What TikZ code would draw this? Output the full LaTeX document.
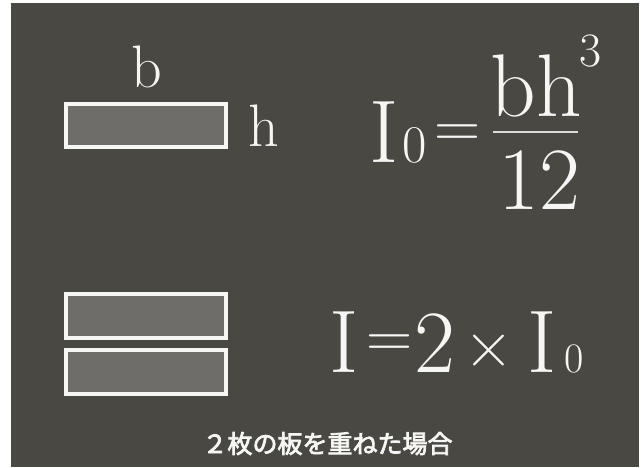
\documentclass[tikz,border=0pt]{standalone}
\usepackage{fontspec}
\usepackage{tikz}
\usetikzlibrary{positioning}
\newfontfamily\jpfont[FakeBold=3]{Noto Sans CJK JP}
\definecolor{cBoard}{HTML}{4A4843}
\definecolor{cPlate}{HTML}{6F6D69}
\definecolor{cChalk}{HTML}{F6F6F4}
\newcommand{\sizeof}[1]{\fontsize{#1}{#1}\selectfont}
\tikzset{
  plate/.style={rectangle, draw=cChalk, fill=cPlate, line width=4pt, minimum width=160pt, minimum height=44pt, inner sep=0pt},
  txt/.style={text=cChalk, inner sep=0pt, anchor=base},
  fracbar/.style={draw=cChalk!85!cBoard, line width=2pt},
}

\begin{document}
\begin{tikzpicture}[x=1pt, y=-1pt]
  \useasboundingbox (0,0) rectangle (641,468);
  \fill[cBoard] (11,3) rectangle (639,467);
  % single plate
  \node[plate, minimum height=43pt] (one) at (146,125.5) {};
  \node[txt, font=\sizeof{60}] (b) at (147,88) {b};
  \node[txt, font=\sizeof{60}] (h) at (264,147) {h};
  % I0 = bh^3/12
  \node[txt, font=\sizeof{89}] (Izero) at (384,163) {I};
  \node[txt, font=\sizeof{53}] (zero) at (415,163) {0};
  \node[txt, font=\sizeof{64}] (eqa) at (458,148) {=};
  \node[txt, font=\sizeof{89}] (bh) at (536,117) {bh};
  \node[txt, font=\sizeof{48}] (cube) at (591,67) {3};
  \draw[fracbar] (493,132) -- (578,132);
  \node[txt, font=\sizeof{89}] (twelve) at (539,210) {12};
  % two plates stacked
  \node[plate] (upper) at (146,316.5) {};
  \node[plate] (lower) at (146,372) {};
  % I = 2 x I0
  \node[txt, font=\sizeof{89}] (I) at (344,373) {I};
  \node[txt, font=\sizeof{64}] (eqb) at (390,357.5) {=};
  \node[txt, font=\sizeof{89}] (two) at (435,373) {2};
  \node[txt, font=\sizeof{68}] (times) at (488.5,367.5) {×};
  \node[txt, font=\sizeof{89}] (Ione) at (542,373) {I};
  \node[txt, font=\sizeof{42}] (zerob) at (574,372) {0};
  \node[txt, font=\jpfont\sizeof{25}] (caption) at (327.5,453) {２枚の板を重ねた場合};
\end{tikzpicture}
\end{document}
